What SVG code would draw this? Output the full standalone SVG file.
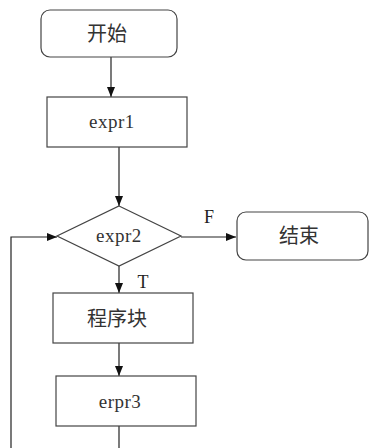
<svg xmlns="http://www.w3.org/2000/svg" width="369" height="448" viewBox="0 0 369 448">
<defs>
<style>
.s{fill:#fff;stroke:#444;stroke-width:1.2}
.c{fill:none;stroke:#222;stroke-width:1.2}
.zh{font-family:"Noto Sans CJK SC",sans-serif;font-size:20px;fill:#333;text-anchor:middle}
.en{font-family:"Liberation Serif",serif;font-size:19px;fill:#333;text-anchor:middle;letter-spacing:0.5px}
.lb{font-family:"Liberation Serif",serif;font-size:18px;fill:#222;text-anchor:middle}
</style>
<marker id="a" viewBox="0 0 10 10" refX="10" refY="5" markerWidth="10" markerHeight="10" markerUnits="userSpaceOnUse" orient="auto"><path d="M0,1 L10,5 L0,9 z" fill="#111"/></marker>
</defs>
<rect width="369" height="448" fill="#fff"/>
<g id="connectors">
<line class="c" x1="111" y1="57" x2="111" y2="97" marker-end="url(#a)"/>
<line class="c" x1="119" y1="147" x2="119" y2="206" marker-end="url(#a)"/>
<line class="c" x1="181" y1="237" x2="236" y2="237" marker-end="url(#a)"/>
<line class="c" x1="119" y1="266" x2="119" y2="293" marker-end="url(#a)"/>
<line class="c" x1="119" y1="343" x2="119" y2="376" marker-end="url(#a)"/>
<line class="c" x1="119" y1="426" x2="119" y2="448"/>
<polyline class="c" points="11,448 11,237 57,237" marker-end="url(#a)"/>
<text class="lb" x="209" y="223">F</text>
<text class="lb" x="143" y="288">T</text>
</g>
<g id="start"><rect class="s" x="41" y="10" width="136" height="47" rx="9"/><text class="zh" x="107" y="41">开始</text></g>
<g id="expr1"><rect class="s" x="47" y="97" width="140" height="50"/><text class="en" x="112" y="128">expr1</text></g>
<g id="expr2"><polygon class="s" points="119,206 181,236 119,266 57,236"/><text class="en" x="119" y="242">expr2</text></g>
<g id="end"><rect class="s" x="237" y="212" width="131" height="48" rx="9"/><text class="zh" x="299" y="243">结束</text></g>
<g id="block"><rect class="s" x="53" y="293" width="140" height="50"/><text class="zh" x="117" y="326">程序块</text></g>
<g id="erpr3"><rect class="s" x="56" y="376" width="140" height="50"/><text class="en" x="120" y="408">erpr3</text></g>
</svg>
